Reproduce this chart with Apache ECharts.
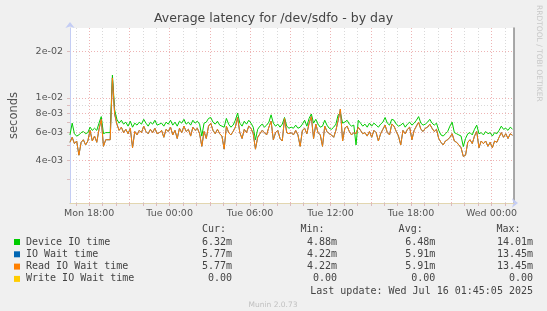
<!DOCTYPE html>
<html><head><meta charset="utf-8">
<script src="https://cdn.jsdelivr.net/npm/echarts@6/dist/echarts.min.js"></script>
<style>html,body{margin:0;padding:0;background:#f0f0f0}#c{width:547px;height:311px}</style>
</head><body><div id="c"></div>
<script>
const titleText = 'Average latency for /dev/sdfo - by day';
const yAxisName = 'seconds';
// samples: every 10 minutes starting Mon 16:34 (hours since Mon 00:00)
const startHour = 16 + 34 / 60;
const stepMinutes = 10;
// values in milliseconds
const deviceIO = [
5.8,6.9,5.9,5.7,5.8,6.0,6.1,5.9,6.0,6.5,6.2,6.4,6.2,6.9,7.6,5.9,6.0,6.0,6.0,14.01,
8.4,7.3,6.9,7.2,6.8,7.0,6.6,7.1,6.5,6.9,6.7,7.0,6.8,7.3,6.9,6.6,7.0,6.8,7.2,6.7,6.8,
6.9,6.6,7.0,6.8,7.2,6.7,7.0,6.6,7.1,6.9,7.3,6.8,7.0,6.7,7.2,6.9,7.1,6.8,5.7,6.9,7.0,7.4,7.5,7.0,6.8,7.1,
6.7,6.6,6.5,7.4,6.8,6.5,6.7,7.2,8.0,6.9,6.6,7.1,6.8,7.2,6.9,6.5,5.4,6.3,6.6,6.8,6.5,6.7,7.0,7.8,6.9,6.6,6.8,6.5,6.8,7.5,6.6,6.4,6.5,6.4,
6.7,6.4,6.5,6.8,7.2,6.6,7.4,7.9,6.9,7.3,6.8,6.5,6.6,7.2,6.7,6.4,6.3,6.5,6.8,7.8,8.0,6.9,7.0,7.2,6.8,6.6,6.7,5.0,7.2,6.9,6.6,6.8,6.5,6.9,
6.6,6.9,6.7,6.5,6.8,7.0,7.5,6.9,6.7,7.3,7.2,6.8,6.6,6.7,6.9,6.5,6.8,7.0,6.7,6.9,7.2,7.6,6.9,6.7,6.8,7.0,7.3,6.9,6.7,6.9,6.2,5.8,5.7,
5.9,6.1,6.6,7.0,6.0,5.9,5.8,5.7,4.88,5.5,5.9,6.0,5.8,6.3,6.7,5.9,6.0,5.8,6.1,5.9,6.0,5.7,6.0,5.9,6.2,6.6,6.3,6.4,6.2,6.5,6.32
];
const readWait = [
5.2,5.6,5.1,5.3,4.3,5.2,5.4,5.0,5.3,6.2,5.3,5.7,5.2,6.3,7.3,4.9,5.4,5.4,5.4,13.45,
7.9,6.8,6.2,6.5,6.0,6.3,5.9,6.4,4.8,6.1,5.8,6.2,6.0,6.6,6.1,5.9,6.3,6.0,6.4,5.9,6.0,
6.2,5.6,6.3,6.1,6.5,5.8,6.2,5.5,6.4,6.0,6.6,6.1,6.3,5.7,6.5,6.2,6.4,5.9,4.9,6.1,5.5,6.6,6.9,6.2,5.9,6.3,
5.9,5.7,4.7,6.6,6.0,5.8,6.1,6.5,7.5,6.0,5.5,6.3,6.0,6.6,6.4,5.9,4.7,5.6,5.9,6.2,6.0,5.8,6.5,7.1,5.4,6.0,6.2,5.5,5.3,7.4,6.0,5.9,6.0,5.8,
6.2,5.8,4.9,6.2,6.4,5.9,6.9,7.6,5.5,6.8,6.0,5.8,4.9,6.6,6.1,5.9,5.8,5.6,6.2,7.2,8.5,5.3,6.4,6.6,6.1,5.8,6.0,5.9,6.5,6.2,5.9,6.0,5.7,6.1,
5.6,6.2,6.0,5.3,5.9,6.3,6.7,6.0,5.8,6.8,6.6,6.1,5.7,5.0,6.2,5.9,6.3,6.5,5.4,6.2,6.6,7.0,6.3,6.1,6.4,6.5,6.8,6.4,6.1,6.3,5.5,5.2,5.0,
5.3,5.4,5.6,5.9,5.3,5.2,5.0,4.8,4.22,4.3,5.2,5.4,5.1,5.7,6.1,4.8,5.3,5.1,5.3,4.9,5.2,4.8,5.3,5.2,5.6,6.0,5.6,5.9,5.5,5.9,5.77
];
// IO Wait time is identical to Read IO Wait time in the reference
const ioWait = readWait;
// Write IO Wait time is 0.00 throughout (cannot appear on a log axis)
const writeWait = [];

const seriesNames = ['Device IO time', 'IO Wait time', 'Read IO Wait time', 'Write IO Wait time'];
const seriesColors = ['#00CC00', '#0066B3', '#FF8000', '#FFCC00'];
const curVals = ['6.32m', '5.77m', '5.77m', '0.00'];
const minVals = ['4.88m', '4.22m', '4.22m', '0.00'];
const avgVals = ['6.48m', '5.91m', '5.91m', '0.00'];
const maxVals = ['14.01m', '13.45m', '13.45m', '0.00'];
const lastUpdate = 'Last update: Wed Jul 16 01:45:05 2025';
const footer = 'Munin 2.0.73';
const sideText = 'RRDTOOL / TOBI OETIKER';

// axis ticks
const xGridHours = [17,18,19,20,21,22,23,24,25,26,27,28,29,30,31,32,33,34,35,36,37,38,39,40,41,42,43,44,45,46,47,48,49];
const xLabelHours = [18, 24, 30, 36, 42, 48];
const xLabelTexts = ['Mon 18:00', 'Tue 00:00', 'Tue 06:00', 'Tue 12:00', 'Tue 18:00', 'Wed 00:00'];
const yGridValues = [3, 4, 5, 6, 7, 8, 9, 10, 20];
const yLabelValues = [4, 6, 8, 10, 20];

const GRAY = '#d9d9d9', RED = '#eeb4b4';
const toXY = arr => arr.map((v, i) => [startHour + i * stepMinutes / 60, v]);

const chart = echarts.init(document.getElementById('c'), null, {renderer: 'canvas'});
const mono = 'DejaVu Sans Mono';
const rowY = [242, 254.3, 266.6, 278.9];
const graphics = [];
graphics.push({type: 'text', left: 'center', top: 12, style: {text: titleText, font: '12.5px "DejaVu Sans"', fill: '#444'}});
graphics.push({type: 'text', x: 543, y: 5, rotation: -Math.PI / 2, style: {text: sideText, font: '7.5px "DejaVu Sans"', fill: '#c8c8c8'}});
[['Cur:', 226], ['Min:', 324.5], ['Avg:', 422.7], ['Max:', 520.5]].forEach(h => {
  graphics.push({type: 'text', x: h[1], y: 229.5, style: {text: h[0], font: '10px "' + mono + '"', fill: '#444', align: 'right', verticalAlign: 'middle'}});
});
seriesNames.forEach((n, r) => {
  graphics.push({type: 'rect', shape: {x: 14, y: rowY[r] - 3, width: 6, height: 6}, style: {fill: seriesColors[r]}});
  graphics.push({type: 'text', x: 26, y: rowY[r], style: {text: n, font: '10px "' + mono + '"', fill: '#444', verticalAlign: 'middle'}});
  [[curVals, 232], [minVals, 337], [avgVals, 435.3], [maxVals, 533]].forEach(c => {
    graphics.push({type: 'text', x: c[1], y: rowY[r], style: {text: c[0][r], font: '10px "' + mono + '"', fill: '#444', align: 'right', verticalAlign: 'middle'}});
  });
});
graphics.push({type: 'text', x: 533, y: 291.7, style: {text: lastUpdate, font: '10px "' + mono + '"', fill: '#444', align: 'right', verticalAlign: 'middle'}});
graphics.push({type: 'text', x: 273, y: 304.6, style: {text: footer, font: '7.5px "DejaVu Sans"', fill: '#c0c0c0', align: 'center', verticalAlign: 'middle'}});

chart.setOption({
  animation: false,
  backgroundColor: '#f0f0f0',
  textStyle: {fontFamily: 'DejaVu Sans'},
  grid: {left: 67, right: 33, top: 28, bottom: 108, show: true, backgroundColor: '#ffffff', borderWidth: 0},
  xAxis: [{
    type: 'value', min: 16.57, max: 49.68, z: 3,
    axisLine: {show: true, lineStyle: {color: '#e2d6b0', width: 1}},
    axisTick: {show: true, customValues: xGridHours, length: 3, lineStyle: {color: '#dcbcbc'}},
    axisLabel: {customValues: xLabelHours, formatter: v => xLabelTexts[xLabelHours.indexOf(Math.round(v))] || '',
      fontSize: 9.5, color: '#555', margin: 6, fontFamily: 'DejaVu Sans'},
    splitLine: {show: true, lineStyle: {color: [GRAY, RED, GRAY], type: [1, 2], width: 1}}
  }, {
    type: 'value', min: 16.57, max: 49.68, position: 'bottom', z: 1,
    axisLine: {show: true, symbol: ['none', 'arrow'], symbolSize: [7, 6], symbolOffset: [0, 4], lineStyle: {color: '#c4cdf4'}},
    axisTick: {show: false}, axisLabel: {show: false}, splitLine: {show: false}
  }],
  yAxis: [{
    type: 'log', logBase: 10, min: 2.123, max: 28.1, z: 2,
    name: yAxisName, nameLocation: 'middle', nameGap: 50, nameRotate: 90,
    nameTextStyle: {fontSize: 11.5, color: '#555', fontFamily: 'DejaVu Sans'},
    axisLine: {show: true, symbol: ['none', 'arrow'], symbolSize: [7, 6], symbolOffset: [0, 6], lineStyle: {color: '#c4cdf4'}},
    axisTick: {show: true, customValues: yGridValues, length: 3, lineStyle: {color: '#dcbcbc'}},
    axisLabel: {customValues: yLabelValues, fontSize: 9.5, color: '#555', margin: 7, fontFamily: 'DejaVu Sans',
      formatter: v => (v / 1000).toExponential(0).replace(/e([+-])(\d)$/, 'e$10$2')},
    splitLine: {show: true, lineStyle: {color: [GRAY, RED, GRAY, RED, GRAY, RED, GRAY, RED, RED], type: [1, 2], width: 1}}
  }, {
    type: 'value', position: 'right', min: 0, max: 1,
    axisLine: {show: true, lineStyle: {color: '#8c8c8c', width: 1.5}},
    axisTick: {show: false}, axisLabel: {show: false}, splitLine: {show: false}
  }],
  graphic: graphics,
  series: [
    {name: seriesNames[0], type: 'line', data: toXY(deviceIO), showSymbol: false, lineStyle: {width: 1, color: seriesColors[0]}, itemStyle: {color: seriesColors[0]}},
    {name: seriesNames[1], type: 'line', data: toXY(ioWait), showSymbol: false, lineStyle: {width: 1, color: seriesColors[1]}, itemStyle: {color: seriesColors[1]}},
    {name: seriesNames[2], type: 'line', data: toXY(readWait), showSymbol: false, lineStyle: {width: 1, color: seriesColors[2]}, itemStyle: {color: seriesColors[2]}},
    {name: seriesNames[3], type: 'line', data: toXY(writeWait), showSymbol: false, lineStyle: {width: 1, color: seriesColors[3]}, itemStyle: {color: seriesColors[3]}}
  ]
});
</script>
</body></html>
